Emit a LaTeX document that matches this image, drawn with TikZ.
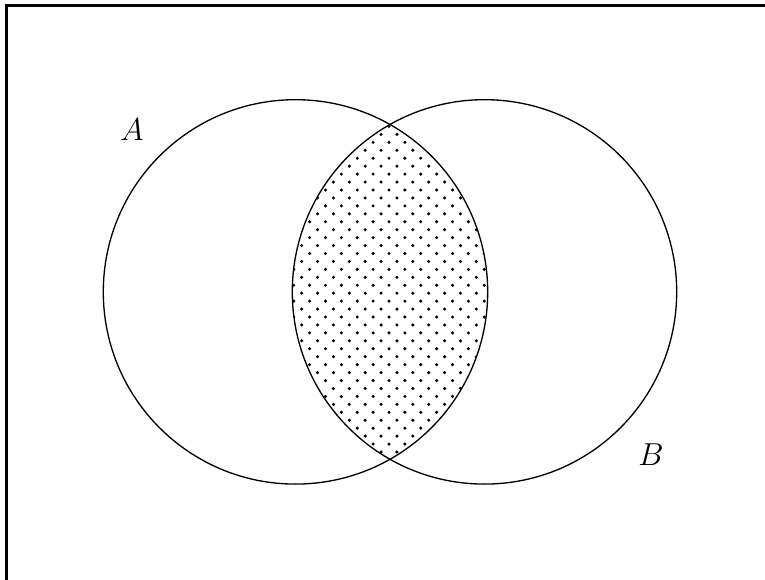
\documentclass[tikz,border=0pt]{standalone}
\usetikzlibrary{patterns}
\pgfdeclarepatternformonly{sparsedots}{\pgfpoint{-1pt}{-1pt}}{\pgfpoint{5pt}{5pt}}{\pgfpoint{6pt}{6pt}}
{
  \pgfpathcircle{\pgfpoint{0pt}{0pt}}{.65pt}
  \pgfpathcircle{\pgfpoint{3pt}{3pt}}{.65pt}
  \pgfusepath{fill}
}
\begin{document}
\begin{tikzpicture}[
  framestyle/.style={line width=0.8pt},
  setcircle/.style={line width=0.5pt},
  setlabel/.style={font=\fontsize{12}{14}\selectfont, inner sep=0pt}
]
\useasboundingbox (0pt,0pt) rectangle (289.08pt,-218.8pt);
% frame (only top and left edges visible)
\coordinate (fbl) at (2.46pt,-230pt);
\coordinate (ftl) at (2.46pt,-2.08pt);
\coordinate (ftr) at (300pt,-2.08pt);
\draw[framestyle] (fbl) -- (ftl) -- (ftr);
% circle centres
\coordinate (cA) at (111.66pt,-110.3pt);
\coordinate (cB) at (183.08pt,-110.3pt);
% intersection
\begin{scope}
  \clip (cA) circle (72.63pt);
  \fill[pattern=sparsedots] (cB) circle (72.63pt);
\end{scope}
\draw[setcircle] (cA) circle (72.63pt);
\draw[setcircle] (cB) circle (72.63pt);
\node[setlabel] (lA) at (49.9pt,-49.1pt) {$A$};
\node[setlabel] (lB) at (246.0pt,-171.9pt) {$B$};
\end{tikzpicture}
\end{document}
